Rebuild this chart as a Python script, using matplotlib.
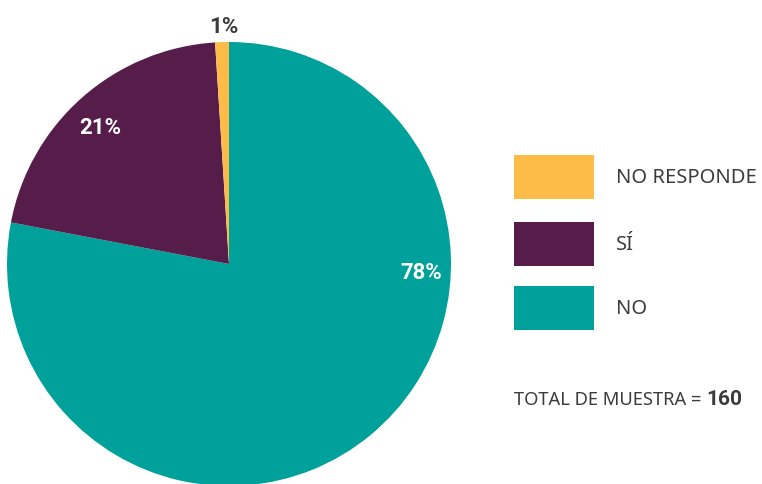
import matplotlib.pyplot as plt
from matplotlib.patches import Rectangle

# datos
labels = ['NO', 'SÍ', 'NO RESPONDE']
values = [78, 21, 1]
pct_text = ['78%', '21%', '1%']
colors = ['#00a19a', '#561d4b', '#fdbb48']
total = 160

text_color = '#3c3c3c'

fig = plt.figure(figsize=(7.62, 4.85), dpi=100)
ax = fig.add_axes([0, 0, 1, 1])

wedges, _ = ax.pie(values, colors=colors, startangle=90, counterclock=False,
                   center=(229, 220), radius=222,
                   wedgeprops={'linewidth': 0})
ax.set_xlim(0, 762)
ax.set_ylim(0, 485)
ax.set_aspect('equal')
ax.axis('off')

# etiquetas de porcentaje
label_pos = [(421, 212), (100, 357), (224, 458)]
label_col = ['white', 'white', text_color]
for txt, (x, y), c in zip(pct_text, label_pos, label_col):
    ax.text(x, y, txt, ha='center', va='center', fontsize=16, fontweight='bold',
            color=c, family='Roboto')

# leyenda (orden inverso: NO RESPONDE arriba)
row_y = [307, 240, 176]
for lab, col, y in zip(labels[::-1], colors[::-1], row_y):
    ax.add_patch(Rectangle((514, y - 22), 80, 44, facecolor=col, edgecolor='none'))
    ax.text(616, y, lab, ha='left', va='center', fontsize=14.5,
            color=text_color, family='Noto Sans')

t1 = ax.text(514, 85, 'TOTAL DE MUESTRA = ', ha='left', va='center',
             fontsize=13.2, color=text_color, family='Noto Sans')
ax.annotate(str(total), xy=(1, 0.5), xycoords=t1, ha='left', va='center',
            fontsize=15, fontweight='bold', color=text_color, family='Roboto')

plt.savefig('out.png', dpi=100)
